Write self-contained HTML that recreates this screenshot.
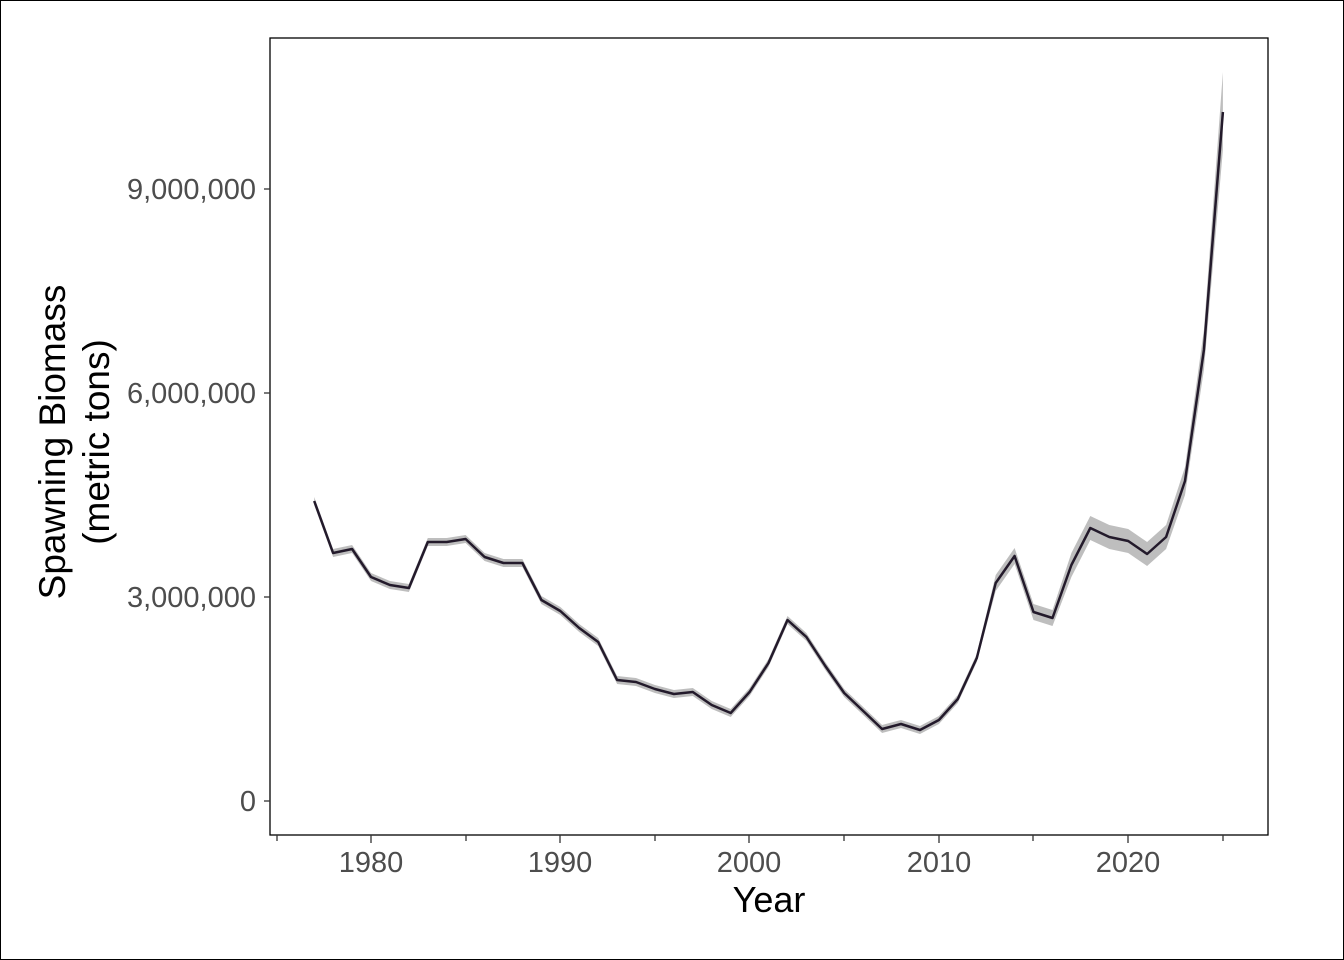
<!DOCTYPE html>
<html><head><meta charset="utf-8"><style>
html,body{margin:0;padding:0;background:#fff}
svg{display:block}
text{font-family:"Liberation Sans",Arial,sans-serif}
</style></head><body>
<svg width="1344" height="960" viewBox="0 0 1344 960" xmlns="http://www.w3.org/2000/svg">
<rect x="0.5" y="0.5" width="1343" height="959" fill="#fff" stroke="#000" stroke-width="1"/>
<path fill="#bebebe" stroke="none" d="M314.2,497 L333.1,549 L352.1,545 L371.0,573 L389.9,581 L408.9,584 L427.8,538 L446.7,538 L465.6,535 L484.6,553 L503.5,559 L522.4,559 L541.4,596 L560.3,607 L579.2,624 L598.2,638 L617.1,676 L636.0,678 L654.9,685 L673.9,690 L692.8,688 L711.7,701 L730.7,709 L749.6,688 L768.5,659 L787.5,616 L806.4,633 L825.3,662 L844.2,689 L863.2,707 L882.1,725 L901.0,720 L920.0,726 L938.9,716 L957.8,695 L976.8,654 L995.7,575 L1014.6,548 L1033.5,604 L1052.5,610 L1071.4,553 L1090.3,516 L1109.3,525 L1128.2,529 L1147.1,542 L1166.1,525 L1185.0,467 L1203.9,330 L1222.9,72 L1222.9,150 L1203.9,370 L1185.0,495 L1166.1,549 L1147.1,566 L1128.2,553 L1109.3,549 L1090.3,540 L1071.4,577 L1052.5,626 L1033.5,620 L1014.6,564 L995.7,591 L976.8,662 L957.8,703 L938.9,724 L920.0,734 L901.0,728 L882.1,733 L863.2,715 L844.2,697 L825.3,670 L806.4,641 L787.5,624 L768.5,667 L749.6,696 L730.7,717 L711.7,709 L692.8,696 L673.9,698 L654.9,693 L636.0,686 L617.1,684 L598.2,646 L579.2,632 L560.3,615 L541.4,604 L522.4,567 L503.5,567 L484.6,561 L465.6,543 L446.7,546 L427.8,546 L408.9,592 L389.9,589 L371.0,581 L352.1,553 L333.1,557 L314.2,505 Z"/>
<polyline fill="none" stroke="#231a2b" stroke-width="2.5" stroke-linejoin="round" points="314.2,501 333.1,553 352.1,549 371.0,577 389.9,585 408.9,588 427.8,542 446.7,542 465.6,539 484.6,557 503.5,563 522.4,563 541.4,600 560.3,611 579.2,628 598.2,642 617.1,680 636.0,682 654.9,689 673.9,694 692.8,692 711.7,705 730.7,713 749.6,692 768.5,663 787.5,620 806.4,637 825.3,666 844.2,693 863.2,711 882.1,729 901.0,724 920.0,730 938.9,720 957.8,699 976.8,658 995.7,583 1014.6,556 1033.5,612 1052.5,618 1071.4,565 1090.3,528 1109.3,537 1128.2,541 1147.1,554 1166.1,537 1185.0,481 1203.9,350 1222.9,112"/>
<rect x="270" y="38" width="998" height="797" fill="none" stroke="#000" stroke-width="1.3"/>
<g stroke="#333" stroke-width="1.3">
<line x1="264" y1="801" x2="270" y2="801"/><line x1="264" y1="597" x2="270" y2="597"/>
<line x1="264" y1="393" x2="270" y2="393"/><line x1="264" y1="189" x2="270" y2="189"/>
<line x1="277" y1="835" x2="277" y2="841"/><line x1="371" y1="835" x2="371" y2="843"/>
<line x1="466" y1="835" x2="466" y2="841"/><line x1="560" y1="835" x2="560" y2="843"/>
<line x1="655" y1="835" x2="655" y2="841"/><line x1="749" y1="835" x2="749" y2="843"/>
<line x1="844" y1="835" x2="844" y2="841"/><line x1="939" y1="835" x2="939" y2="843"/>
<line x1="1033" y1="835" x2="1033" y2="841"/><line x1="1128" y1="835" x2="1128" y2="843"/>
<line x1="1223" y1="835" x2="1223" y2="841"/>
</g>
<g font-size="29" fill="#4d4d4d" text-anchor="end">
<text x="256" y="811">0</text><text x="256" y="607">3,000,000</text>
<text x="256" y="403">6,000,000</text><text x="256" y="199">9,000,000</text>
</g>
<g font-size="29" fill="#4d4d4d" text-anchor="middle">
<text x="371" y="872">1980</text><text x="560" y="872">1990</text><text x="749" y="872">2000</text>
<text x="939" y="872">2010</text><text x="1128" y="872">2020</text>
</g>
<text x="769" y="912" font-size="36" text-anchor="middle" fill="#000">Year</text>
<text transform="translate(65,442) rotate(-90)" font-size="37" text-anchor="middle" fill="#000">Spawning Biomass</text>
<text transform="translate(109,442) rotate(-90)" font-size="37" text-anchor="middle" fill="#000">(metric tons)</text>
</svg>
</body></html>
